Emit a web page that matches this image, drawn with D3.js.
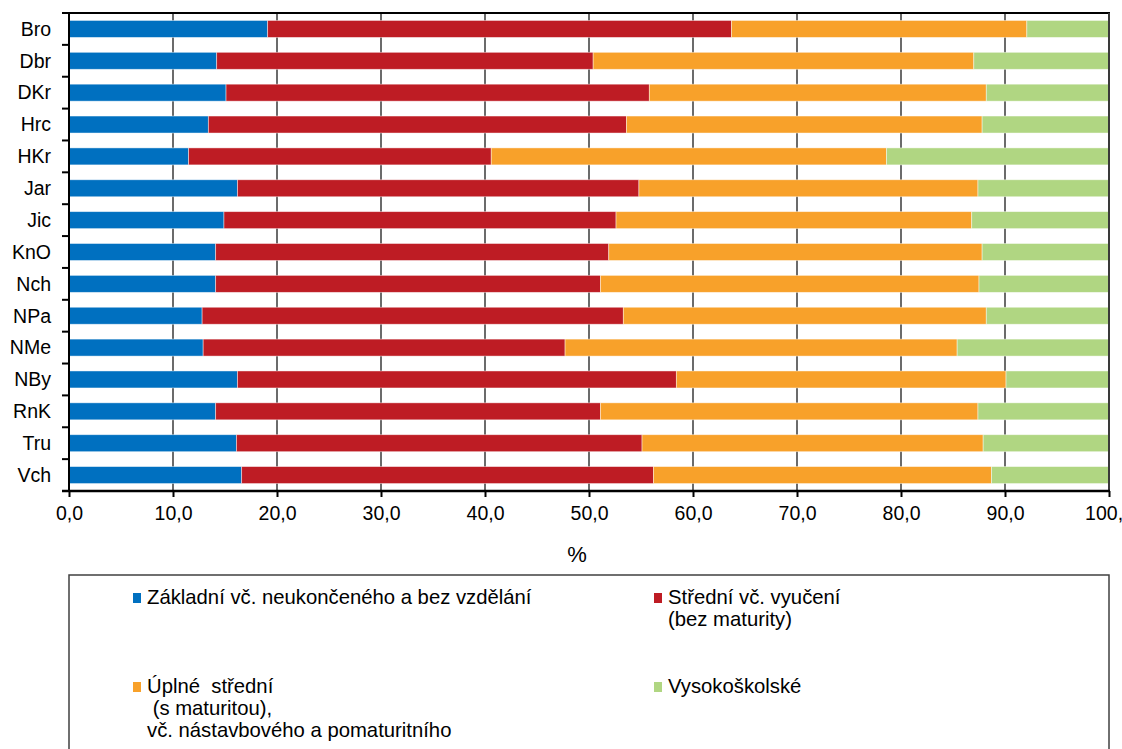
<!DOCTYPE html>
<html>
<head>
<meta charset="utf-8">
<script src="https://cdn.jsdelivr.net/npm/d3@7"></script>
<style>
  html, body { margin: 0; padding: 0; background: #fff; }
  svg { display: block; font-family: "Liberation Sans", Arial, sans-serif; }
  text { white-space: pre; }
</style>
</head>
<body>
<svg id="chart" width="1122" height="749"></svg>
<script>
// ---- data ----
const categories = ["Bro","Dbr","DKr","Hrc","HKr","Jar","Jic","KnO","Nch","NPa","NMe","NBy","RnK","Tru","Vch"];
const zakladni   = [19.1,14.2,15.1,13.4,11.5,16.2,14.9,14.1,14.1,12.8,12.9,16.2,14.1,16.1,16.6];
const stredni    = [44.6,36.2,40.7,40.2,29.1,38.6,37.7,37.8,37.0,40.5,34.8,42.2,37.0,39.0,39.6];
const uplne      = [28.4,36.6,32.4,34.2,38.0,32.6,34.2,35.9,36.4,34.9,37.7,31.7,36.3,32.8,32.5];
const vysoko     = [7.9,13.0,11.8,12.2,21.4,12.6,13.2,12.2,12.5,11.8,14.6,9.9,12.6,12.1,11.3];
const seriesKeys = ["zakladni","stredni","uplne","vysoko"];
const seriesLabels = [
  ["Základní vč. neukončeného a bez vzdělání"],
  ["Střední vč. vyučení", "(bez maturity)"],
  ["Úplné  střední", " (s maturitou),", "vč. nástavbového a pomaturitního"],
  ["Vysokoškolské"]
];
const xTicks = [0,10,20,30,40,50,60,70,80,90,100];
const xAxisTitle = "%";

// ---- layout ----
const colors = ["#0070C0","#BE1C24","#F8A12A","#B0D682"];
const svg = d3.select("#chart");
const m = {left: 69, right: 1109, top: 13, bottom: 491};

const rows = categories.map((c,i)=>({cat:c, zakladni:zakladni[i], stredni:stredni[i], uplne:uplne[i], vysoko:vysoko[i]}));
const stack = d3.stack().keys(seriesKeys)(rows);

const x = d3.scaleLinear().domain([0,100]).range([m.left, m.right]);
const y = d3.scaleBand().domain(categories).range([m.top, m.bottom]).paddingInner(0.467).paddingOuter(0.2335);

// gridlines
svg.append("g").selectAll("line").data(xTicks.slice(1,-1)).join("line")
  .attr("x1", d=>x(d)).attr("x2", d=>x(d))
  .attr("y1", m.top).attr("y2", m.bottom)
  .attr("stroke", "#3a3a3a").attr("stroke-width", 1.5);

// bars
svg.append("g").selectAll("g").data(stack).join("g")
  .attr("fill", (d,i)=>colors[i])
  .selectAll("rect").data(d=>d).join("rect")
  .attr("x", d=>x(d[0]))
  .attr("width", d=>x(d[1])-x(d[0]))
  .attr("y", d=>y(d.data.cat))
  .attr("height", y.bandwidth())
  .attr("stroke", "rgba(255,255,255,0.55)").attr("stroke-width", 0.8);

// frame: top and right
svg.append("line").attr("x1", m.left).attr("x2", m.right+1).attr("y1", m.top).attr("y2", m.top)
  .attr("stroke", "#000").attr("stroke-width", 2);
svg.append("line").attr("x1", m.right).attr("x2", m.right).attr("y1", m.top).attr("y2", m.bottom)
  .attr("stroke", "#3a3a3a").attr("stroke-width", 2);

// x axis
const xAxis = d3.axisBottom(x).tickValues(xTicks).tickSize(6).tickPadding(9)
  .tickFormat(d=>d3.format(".1f")(d).replace(".", ","));
const gx = svg.append("g").attr("transform", `translate(0,${m.bottom})`).call(xAxis);
gx.select(".domain").attr("stroke", "#000").attr("stroke-width", 2.5).attr("d", `M${m.left-7},0H${m.right+1}`);
gx.selectAll(".tick line").attr("stroke", "#000").attr("stroke-width", 2);
gx.selectAll(".tick text").attr("font-size", 19.5).attr("fill", "#000").attr("font-family", "Liberation Sans, Arial, sans-serif");

// y axis
const gy = svg.append("g").attr("transform", `translate(${m.left},0)`);
gy.append("line").attr("x1",0).attr("x2",0).attr("y1", m.top).attr("y2", m.bottom).attr("stroke","#000").attr("stroke-width",2);
const boundaries = d3.range(categories.length+1).map(i=>m.top + i*y.step());
gy.selectAll(".yt").data(boundaries).join("line").attr("class","yt")
  .attr("x1",-7).attr("x2",0).attr("y1",d=>d).attr("y2",d=>d).attr("stroke","#000").attr("stroke-width",2);
gy.selectAll(".yl").data(categories).join("text").attr("class","yl")
  .attr("x", -18).attr("y", d=>y(d)+y.bandwidth()/2).attr("dy","0.35em")
  .attr("text-anchor","end").attr("font-size",19.5).attr("fill","#000").text(d=>d);

// x axis title
svg.append("text").attr("x", 577).attr("y", 562).attr("text-anchor","middle")
  .attr("font-size", 22).attr("fill","#000").text(xAxisTitle);

// legend
svg.append("rect").attr("x", 69).attr("y", 575).attr("width", 1040).attr("height", 200)
  .attr("fill","none").attr("stroke","#404040").attr("stroke-width",1.5);
const legPos = [[133,604],[654,604],[133,693],[654,693]];
const lg = svg.append("g").selectAll("g").data(seriesLabels).join("g")
  .attr("transform",(d,i)=>`translate(${legPos[i][0]},${legPos[i][1]})`);
lg.append("rect").attr("x",0).attr("y",-11).attr("width",8).attr("height",10).attr("fill",(d,i)=>colors[i]);
lg.each(function(lines){
  d3.select(this).selectAll("text").data(lines).join("text")
    .attr("x", 14).attr("y",(d,j)=>j*22).attr("font-size",20.3).attr("fill","#000").text(d=>d);
});
</script>
</body>
</html>
